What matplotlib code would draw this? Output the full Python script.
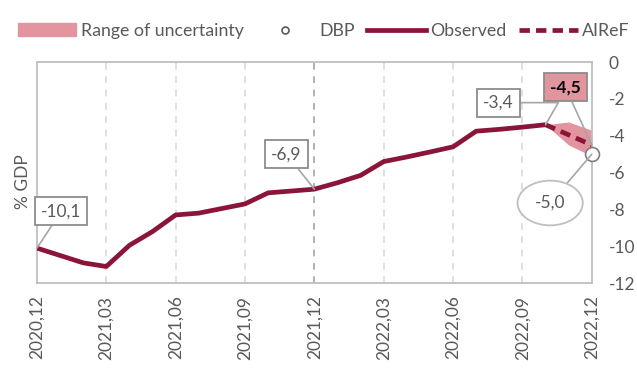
import matplotlib.pyplot as plt
import numpy as np
from matplotlib.patches import Patch
from matplotlib.lines import Line2D

plt.rcParams['font.family'] = ['Lato', 'DejaVu Sans']

# monthly data, 2020.12 .. 2022.12
months = ['2020,12', '2021,01', '2021,02', '2021,03', '2021,04', '2021,05', '2021,06',
          '2021,07', '2021,08', '2021,09', '2021,10', '2021,11', '2021,12',
          '2022,01', '2022,02', '2022,03', '2022,04', '2022,05', '2022,06',
          '2022,07', '2022,08', '2022,09', '2022,10', '2022,11', '2022,12']
observed = [-10.1, -10.5, -10.9, -11.1, -9.95, -9.2, -8.3, -8.2, -7.95, -7.7, -7.1, -7.0,
            -6.9, -6.55, -6.15, -5.4, -5.15, -4.88, -4.6, -3.75, -3.65, -3.53, -3.4]
airef = [-3.4, -3.95, -4.5]
band_upper = [-3.4, -3.25, -3.7]
band_lower = [-3.4, -4.5, -5.1]
dbp = -5.0

red = '#8a1538'
pink = '#e3959f'
grey_txt = '#595959'
grey_line = '#bfbfbf'
fs = 12.5

x = np.arange(len(months))
x_obs = x[:len(observed)]
x_fc = x[len(observed) - 1:]

fig = plt.figure(figsize=(6.37, 3.72), dpi=100)
ax = fig.add_axes([0.058, 0.239, 0.871, 0.594])

# gridlines every quarter
for i in range(3, 24, 3):
    c = '#a6a6a6' if i == 12 else '#d9d9d9'
    ax.axvline(i, color=c, ls=(0, (4, 4)), lw=1.2, zorder=0)

ax.fill_between(x_fc, band_lower, band_upper, color=pink, lw=0, zorder=1)
ax.plot(x_obs, observed, color=red, lw=3.4, solid_capstyle='butt', zorder=3)
ax.plot(x_fc, airef, color=red, lw=3.4, ls=(0, (2.2, 1.3)), zorder=3)
ax.plot(x[-1], dbp, 'o', ms=10, mfc='white', mec='#7f7f7f', mew=1.2, zorder=5, clip_on=False)

ax.set_xlim(0, 24)
ax.set_ylim(-12, 0)
ax.set_xticks(x[::3])
ax.set_xticklabels(months[::3], rotation=90, fontsize=fs, color=grey_txt)
ax.yaxis.tick_right()
ax.set_yticks(range(-12, 1, 2))
ax.set_yticklabels([str(v) for v in range(-12, 1, 2)], fontsize=fs, color=grey_txt)
ax.tick_params(length=0, pad=9)
ax.tick_params(axis='y', pad=12)
ax.set_ylabel('% GDP', fontsize=fs, color=grey_txt)
ax.yaxis.set_label_coords(-0.011, 0.46)
for s in ax.spines.values():
    s.set_color(grey_line)
    s.set_linewidth(1.3)

box = dict(boxstyle='square,pad=0.35', fc='white', ec='#8c8c8c', lw=1.3)
arr = dict(arrowstyle='-', color='#a6a6a6', lw=1.2, shrinkA=0, shrinkB=0)

ax.annotate('-10,1', (x[0], observed[0]), xytext=(1.05, -8.1), ha='center', va='center',
            fontsize=fs, color=grey_txt, bbox=box, arrowprops=arr, zorder=6)
ax.annotate('-6,9', (x[12], observed[12]), xytext=(10.8, -5.0), ha='center', va='center',
            fontsize=fs, color=grey_txt, bbox=box, arrowprops=arr, zorder=6)
ax.annotate('-3,4', (x_obs[-1], observed[-1]), xytext=(19.95, -2.2), ha='center', va='center',
            fontsize=fs, color=grey_txt, bbox=box, zorder=6,
            arrowprops=dict(arr, connectionstyle='angle,angleA=0,angleB=60,rad=0'))
ax.annotate('-4,5', (x[-1], airef[-1]), xytext=(22.85, -1.36), ha='center', va='center',
            fontsize=fs, fontweight='bold', color='black', zorder=6,
            bbox=dict(box, fc=pink), arrowprops=arr, annotation_clip=False)
ax.annotate('-5,0', (x[-1], dbp), xytext=(22.2, -7.65), ha='center', va='center',
            fontsize=fs, color=grey_txt, zorder=6,
            bbox=dict(boxstyle='ellipse,pad=0.45', fc='white', ec='#bfbfbf', lw=1.3),
            arrowprops=arr, annotation_clip=False)

handles = [Patch(color=pink),
           Line2D([], [], ls='none', marker='o', ms=5, mfc='white', mec=grey_txt, mew=1.2),
           Line2D([], [], color=red, lw=3.4),
           Line2D([], [], color=red, lw=3.4, ls=(0, (2.2, 1.3)))]
labels = ['Range of uncertainty', 'DBP', 'Observed', 'AIReF']
fig.legend(handles, labels, loc='upper left', bbox_to_anchor=(0.022, 0.948), ncol=4,
           frameon=False, fontsize=fs + 0.3, handlelength=3.3, handletextpad=0.25,
           columnspacing=0.7, borderaxespad=0, borderpad=0.2, labelcolor=grey_txt)

fig.savefig('out.png', dpi=100)
